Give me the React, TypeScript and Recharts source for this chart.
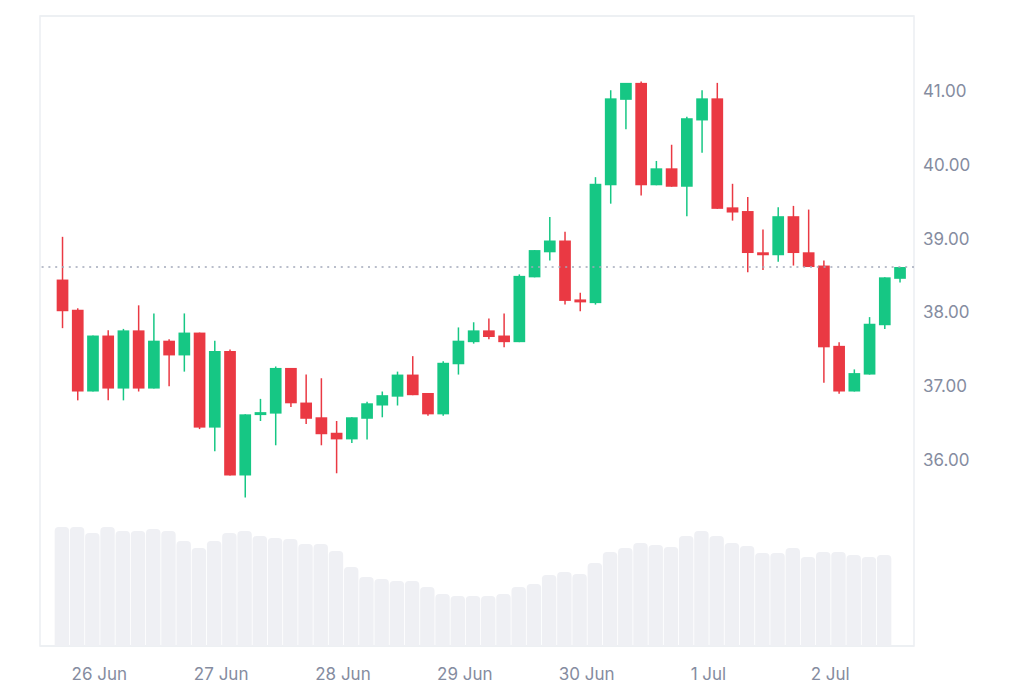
import React from "react";
import {
  ComposedChart,
  Bar,
  XAxis,
  YAxis,
  CartesianGrid,
  ReferenceLine,
  ReferenceArea,
} from "recharts";

// ---- data ----
const OPEN = [
  38.44, 38.03, 36.92, 37.68, 36.96, 37.75, 36.96, 37.61, 37.41, 37.72,
  36.43, 37.47, 35.78, 36.6, 36.62, 37.24, 36.77, 36.57, 36.36, 36.27,
  36.55, 36.73, 36.85, 37.15, 36.9, 36.61, 37.29, 37.59, 37.75, 37.68,
  37.59, 38.47, 38.81, 38.97, 38.17, 38.12, 39.72, 40.88, 41.11, 39.72,
  39.95, 39.7, 40.6, 40.9, 39.42, 39.37, 38.81, 38.77, 39.3, 38.81,
  38.63, 37.54, 36.92, 37.15, 37.82, 38.45,
];
const HIGH = [
  39.02, 38.05, 37.68, 37.75, 37.77, 38.09, 37.98, 37.63, 37.98, 37.72,
  37.61, 37.49, 36.61, 36.82, 37.26, 37.24, 37.15, 37.1, 36.52, 36.57,
  36.78, 36.92, 37.19, 37.4, 36.9, 37.33, 37.79, 37.86, 37.91, 37.98,
  38.51, 38.84, 39.29, 39.09, 38.26, 39.83, 41.01, 41.11, 41.13, 40.05,
  40.27, 40.65, 41.01, 41.11, 39.74, 39.56, 39.12, 39.42, 39.44, 39.39,
  38.7, 37.59, 37.22, 37.93, 38.47, 38.61,
];
const LOW = [
  37.78, 36.8, 36.92, 36.8, 36.8, 36.92, 36.96, 36.99, 37.19, 36.41,
  36.11, 35.78, 35.48, 36.52, 36.19, 36.71, 36.48, 36.19, 35.81, 36.22,
  36.27, 36.57, 36.73, 36.87, 36.59, 36.59, 37.15, 37.57, 37.63, 37.52,
  37.59, 38.47, 38.7, 38.1, 38.01, 38.1, 39.47, 40.48, 39.58, 39.72,
  39.7, 39.3, 40.16, 39.4, 39.24, 38.54, 38.57, 38.68, 38.63, 38.61,
  37.04, 36.89, 36.92, 37.15, 37.77, 38.4,
];
const CLOSE = [
  38.01, 36.92, 37.68, 36.96, 37.75, 36.96, 37.61, 37.41, 37.72, 36.43,
  37.47, 35.78, 36.61, 36.64, 37.24, 36.76, 36.55, 36.34, 36.27, 36.57,
  36.76, 36.87, 37.15, 36.87, 36.61, 37.31, 37.61, 37.75, 37.66, 37.59,
  38.49, 38.84, 38.97, 38.15, 38.13, 39.74, 40.9, 41.11, 39.72, 39.95,
  39.7, 40.63, 40.9, 39.4, 39.35, 38.8, 38.77, 39.3, 38.8, 38.61,
  37.52, 36.92, 37.17, 37.84, 38.47, 38.61,
];
// volume (relative units); the last, still-open candle has no volume bar
const VOLUME: (number | null)[] = [
  119, 119, 113, 119, 115, 115, 117, 115, 105, 98,
  105, 113, 115, 110, 108, 107, 102, 102, 95, 79,
  69, 67, 65, 65, 59, 52, 50, 50, 50, 52,
  59, 62, 71, 74, 72, 83, 94, 98, 103, 101,
  99, 110, 115, 110, 103, 100, 93, 93, 98, 89,
  94, 94, 91, 89, 91, null,
];
// hours relative to 26 Jun 00:00
const FIRST_CANDLE_HOUR = -7.3;
const CANDLE_HOURS = 3;
const DAY_TICKS = [0, 24, 48, 72, 96, 120, 144];
const DAY_LABELS = ["26 Jun", "27 Jun", "28 Jun", "29 Jun", "30 Jun", "1 Jul", "2 Jul"];
const PRICE_TICKS = [36, 37, 38, 39, 40, 41];
const LAST_PRICE = 38.61;

const X_DOMAIN: [number, number] = [-11.69, 160.5];
const Y_DOMAIN: [number, number] = [33.465, 42.018];
const VOL_DOMAIN: [number, number] = [0, 630];

const GREEN = "#16c784";
const RED = "#ea3943";
const GRID = "#eff1f5";
const TEXT = "#858ca0";
const FONT = "Inter, 'Noto Sans', sans-serif";

const data = OPEN.map((o, i) => ({
  t: FIRST_CANDLE_HOUR + i * CANDLE_HOURS,
  open: o,
  high: HIGH[i],
  low: LOW[i],
  close: CLOSE[i],
  range: [LOW[i], HIGH[i]],
  volume: VOLUME[i],
}));

const Candle = (props: any) => {
  const { x, y, width, height, payload } = props;
  if (x == null || y == null || !payload) return null;
  const { open, close, high, low } = payload;
  const up = close >= open;
  const color = up ? GREEN : RED;
  const yTop = Math.min(y, y + height);
  const yBot = Math.max(y, y + height);
  const span = high - low || 1;
  const py = (p: number) => yTop + ((high - p) / span) * (yBot - yTop);
  const cx = x + width / 2;
  const bTop = py(Math.max(open, close));
  const bBot = py(Math.min(open, close));
  return (
    <g>
      <line x1={cx} x2={cx} y1={yTop} y2={yBot} stroke={color} strokeWidth={1.5} />
      <rect x={x} y={bTop} width={width} height={Math.max(bBot - bTop, 1.5)} fill={color} />
    </g>
  );
};

const XTick = (props: any) => {
  const { x, y, index } = props;
  return (
    <text x={x} y={y + 34} textAnchor="middle" fill={TEXT} fontSize={17} fontFamily={FONT}>
      {DAY_LABELS[index]}
    </text>
  );
};

const YTick = (props: any) => {
  const { x, y, payload } = props;
  return (
    <text x={x + 9} y={y + 6.5} textAnchor="start" fill={TEXT} fontSize={17} fontFamily={FONT}>
      {Number(payload.value).toFixed(2)}
    </text>
  );
};

export default function App() {
  return (
    <div style={{ position: "absolute", left: 0, top: 0, width: 1024, height: 683, background: "#fff" }}>
      <ComposedChart
        width={1024}
        height={683}
        data={data}
        margin={{ top: 16, right: 0, bottom: 0, left: 40 }}
      >
        <CartesianGrid horizontal vertical={false} stroke={GRID} strokeWidth={1.5} />
        <XAxis
          dataKey="t"
          type="number"
          domain={X_DOMAIN}
          allowDataOverflow
          ticks={DAY_TICKS}
          tick={<XTick />}
          tickLine={false}
          tickSize={0}
          tickMargin={0}
          axisLine={false}
          height={37}
          interval={0}
        />
        <XAxis
          xAxisId="vol"
          dataKey="t"
          type="number"
          domain={X_DOMAIN}
          allowDataOverflow
          hide
        />
        <YAxis
          yAxisId="price"
          orientation="right"
          type="number"
          domain={Y_DOMAIN}
          allowDataOverflow
          ticks={PRICE_TICKS}
          tick={<YTick />}
          tickLine={false}
          tickSize={0}
          tickMargin={0}
          axisLine={false}
          width={110}
          interval={0}
        />
        <YAxis yAxisId="vol" hide domain={VOL_DOMAIN} allowDataOverflow />
        <Bar
          xAxisId="vol"
          yAxisId="vol"
          dataKey="volume"
          barSize={14.4}
          fill="#eff0f4"
          radius={[4, 4, 0, 0]}
          isAnimationActive={false}
        />
        <ReferenceArea
          yAxisId="price"
          x1={X_DOMAIN[0]}
          x2={X_DOMAIN[1]}
          y1={Y_DOMAIN[0]}
          y2={Y_DOMAIN[1]}
          fill="none"
          fillOpacity={0}
          stroke="#eceef2"
          strokeWidth={1.5}
          ifOverflow="visible"
        />
        <ReferenceLine
          yAxisId="price"
          y={LAST_PRICE}
          stroke="#a3a9ba"
          strokeWidth={1.5}
          strokeDasharray="2 4.8"
          ifOverflow="visible"
        />
        <Bar
          yAxisId="price"
          dataKey="range"
          barSize={11.7}
          shape={<Candle />}
          isAnimationActive={false}
        />
      </ComposedChart>
    </div>
  );
}
